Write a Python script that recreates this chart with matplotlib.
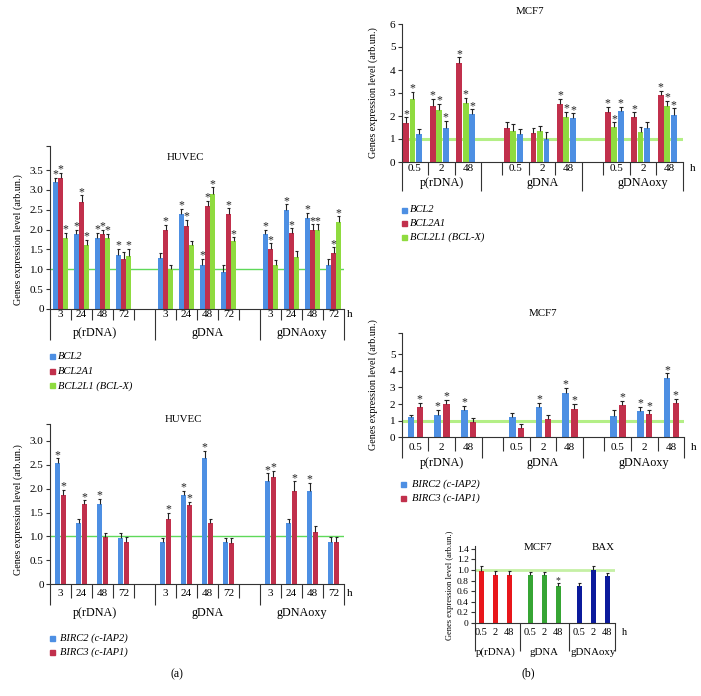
import matplotlib
matplotlib.use("Agg")
import matplotlib.pyplot as plt
from matplotlib.patches import Rectangle
import numpy as np

plt.rcParams['font.family'] = ['Liberation Serif', 'DejaVu Serif']

W, H = 701, 696

BLUE = '#4d8fe3'
RED = '#c1304c'
LGREEN = '#8fdb3f'

### DATA ###

groups = ['p(rDNA)', 'gDNA', 'gDNAoxy']
huvec_hours = ['3', '24', '48', '72']
mcf7_hours = ['0.5', '2', '48']

# HUVEC, BCL family (p(rDNA) 3/24/48/72, gDNA ..., gDNAoxy ...)
huvec_bcl2 = [3.19, 1.88, 1.78, 1.36, 1.29, 2.39, 1.10, 0.92, 1.89, 2.49, 2.30, 1.11]
huvec_bcl2_err = [0.12, 0.12, 0.14, 0.15, 0.11, 0.13, 0.16, 0.20, 0.11, 0.15, 0.13, 0.15]
huvec_bcl2_sig = [1, 1, 1, 1, 0, 1, 1, 0, 1, 1, 1, 0]
huvec_bcl2a1 = [3.30, 2.69, 1.88, 1.26, 1.99, 2.09, 2.59, 2.39, 1.50, 1.91, 1.99, 1.40]
huvec_bcl2a1_err = [0.13, 0.17, 0.12, 0.17, 0.13, 0.15, 0.14, 0.15, 0.15, 0.12, 0.14, 0.15]
huvec_bcl2a1_sig = [1, 1, 1, 0, 1, 1, 1, 1, 1, 1, 1, 1]
huvec_bcl2l1 = [1.80, 1.60, 1.78, 1.34, 1.00, 1.60, 2.89, 1.71, 1.11, 1.32, 2.00, 2.18]
huvec_bcl2l1_err = [0.12, 0.14, 0.12, 0.17, 0.12, 0.12, 0.17, 0.10, 0.12, 0.14, 0.13, 0.15]
huvec_bcl2l1_sig = [1, 1, 1, 1, 0, 0, 1, 1, 0, 0, 1, 1]

# HUVEC, BIRC
huvec_birc2 = [2.54, 1.28, 1.67, 0.97, 0.88, 1.86, 2.64, 0.88, 2.15, 1.28, 1.96, 0.88]
huvec_birc2_err = [0.09, 0.08, 0.12, 0.11, 0.08, 0.10, 0.15, 0.09, 0.17, 0.08, 0.16, 0.10]
huvec_birc2_sig = [1, 0, 1, 0, 0, 1, 1, 0, 1, 0, 1, 0]
huvec_birc3 = [1.87, 1.67, 0.98, 0.88, 1.36, 1.66, 1.28, 0.87, 2.25, 1.96, 1.09, 0.88]
huvec_birc3_err = [0.11, 0.09, 0.09, 0.10, 0.13, 0.07, 0.09, 0.10, 0.12, 0.19, 0.13, 0.10]
huvec_birc3_sig = [1, 1, 0, 0, 1, 1, 0, 0, 1, 1, 0, 0]

# MCF7, BCL family (p(rDNA) 0.5/2/48, gDNA ..., gDNAoxy ...)
mcf7_bcl2a1 = [1.71, 2.45, 4.29, 1.46, 1.25, 2.51, 2.19, 1.94, 2.91]
mcf7_bcl2a1_err = [0.23, 0.30, 0.26, 0.26, 0.24, 0.23, 0.22, 0.22, 0.19]
mcf7_bcl2a1_sig = [1, 1, 1, 0, 0, 1, 1, 1, 1]
mcf7_bcl2l1 = [2.75, 2.26, 2.55, 1.35, 1.35, 1.97, 1.54, 1.30, 2.43]
mcf7_bcl2l1_err = [0.31, 0.26, 0.25, 0.29, 0.22, 0.22, 0.18, 0.24, 0.22]
mcf7_bcl2l1_sig = [1, 1, 1, 0, 0, 1, 1, 0, 1]
mcf7_bcl2 = [1.20, 1.49, 2.07, 1.22, 0.99, 1.90, 2.22, 1.49, 2.04]
mcf7_bcl2_err = [0.22, 0.31, 0.22, 0.20, 0.30, 0.22, 0.19, 0.23, 0.29]
mcf7_bcl2_sig = [0, 1, 1, 0, 0, 1, 1, 0, 1]

# MCF7, BIRC
mcf7_birc2 = [1.20, 1.36, 1.62, 1.20, 1.83, 2.64, 1.30, 1.56, 3.55]
mcf7_birc2_err = [0.12, 0.30, 0.29, 0.26, 0.24, 0.34, 0.32, 0.27, 0.30]
mcf7_birc2_sig = [0, 1, 1, 0, 1, 1, 0, 1, 1]
mcf7_birc3 = [1.83, 2.01, 0.95, 0.59, 1.10, 1.70, 1.93, 1.42, 2.07]
mcf7_birc3_err = [0.24, 0.26, 0.21, 0.20, 0.26, 0.31, 0.28, 0.24, 0.26]
mcf7_birc3_sig = [1, 1, 0, 0, 0, 1, 1, 1, 1]

# MCF7, BAX
mcf7_bax = [0.98, 0.90, 0.90, 0.90, 0.90, 0.70, 0.70, 0.99, 0.89]
mcf7_bax_err = [0.10, 0.07, 0.07, 0.06, 0.06, 0.06, 0.05, 0.09, 0.05]
mcf7_bax_sig = [0, 0, 0, 0, 0, 1, 0, 0, 0]
bax_colors = ['#e8161b'] * 3 + ['#36a534'] * 3 + ['#0b1a9c'] * 3

### LAYOUT ###

huvec_pos = np.array([s + i + 0.5 for s in (0, 5, 10) for i in range(4)])
huvec_short = [1, 2, 3, 4, 6, 7, 8, 9, 11, 12, 13]
huvec_long = [0, 5, 10, 14]
huvec_group_x = [2.15, 7.5, 12.0]

mcf7_pos = np.array([s + i + 0.5 for s in (0, 3.8, 7.6) for i in range(3)])
mcf7_short = [1, 2, 3.8, 4.8, 5.8, 7.6, 8.6, 9.6]
mcf7_long = [0, 3, 6.8, 10.6]
mcf7_group_x = [1.5, 5.3, 9.1]

bax_pos = np.array([s + i + 0.45 for s in (0, 3.5, 7) for i in range(3)])
bax_long = [0, 3.2, 6.7, 10]
bax_group_x = [1.45, 4.95, 8.45]

fig = plt.figure(figsize=(W / 100, H / 100), dpi=100)


def add_ax(left, top, right, bottom):
    return fig.add_axes([left / W, 1 - bottom / H, (right - left) / W, (bottom - top) / H])


def draw_bars(ax, pos, series, width, fs_star=8.5):
    for vals, errs, sig, color, off in series:
        x = pos + off
        vals = np.asarray(vals)
        tops = vals + np.asarray(errs)
        ax.bar(x, vals, width, color=color, zorder=2)
        ax.vlines(x, vals, tops, color='#222222', lw=0.8, zorder=3)
        ax.hlines(tops, x - width * 0.32, x + width * 0.32, color='#222222', lw=0.8, zorder=3)
        for xi, t, s in zip(x, tops, sig):
            if s:
                ax.annotate('*', (xi, t), xytext=(0, -2.0), textcoords='offset points',
                            ha='center', va='bottom', fontsize=fs_star, color='#222222')


def style_axes(ax, xlim, ylim, yticks, ylabels, short, long, short_len, long_len,
               pos, hours, hour_off, group_x, group_off, h_off, fs=8, fs_group=8.7):
    ax.set_xlim(*xlim)
    ax.set_ylim(*ylim)
    for s in ('top', 'right'):
        ax.spines[s].set_visible(False)
    for s in ('left', 'bottom'):
        ax.spines[s].set_linewidth(0.8)
        ax.spines[s].set_color('#333333')
    ax.set_yticks(yticks, ylabels)
    ax.tick_params(axis='y', direction='out', length=3, width=0.8, labelsize=fs, pad=1.5,
                   color='#333333')
    ax.set_xticks(long, [''] * len(long))
    ax.set_xticks(short, [''] * len(short), minor=True)
    ax.tick_params(axis='x', which='major', direction='out', length=long_len, width=0.8,
                   color='#333333')
    ax.tick_params(axis='x', which='minor', direction='out', length=short_len, width=0.8,
                   color='#333333')
    labels = [hours[i % len(hours)] for i in range(len(pos))]
    for x, lab in zip(pos, labels):
        ax.annotate(lab, (x, 0), xycoords=('data', 'axes fraction'), xytext=(0, -hour_off),
                    textcoords='offset points', ha='center', va='center', fontsize=fs)
    ax.annotate('h', (xlim[1], 0), xycoords=('data', 'axes fraction'), xytext=(h_off, -hour_off),
                textcoords='offset points', ha='left', va='center', fontsize=fs)
    for x, g in zip(group_x, groups):
        ax.annotate(g, (x, 0), xycoords=('data', 'axes fraction'), xytext=(0, -group_off),
                    textcoords='offset points', ha='center', va='center', fontsize=fs_group)


def legend(x_sq, x_txt, ys, labels, colors):
    for y, lab, c in zip(ys, labels, colors):
        fig.add_artist(Rectangle(((x_sq - 2.5) / W, 1 - (y + 2.5) / H), 5 / W, 5 / H,
                                 color=c, transform=fig.transFigure))
        fig.text(x_txt / W, 1 - y / H, lab, ha='left', va='center', fontsize=7.6, style='italic')


def ftext(x, y, s, **kw):
    kw.setdefault('fontsize', 7.8)
    fig.text(x / W, 1 - y / H, s, ha='center', va='center', **kw)


YLAB = 'Genes expression level (arb.un.)'

### HUVEC, BCL ###
ax = add_ax(50, 146.2, 344, 309)
ax.axhline(1.0, color='#5fd95a', lw=1.0, zorder=1)
draw_bars(ax, huvec_pos, [
    (huvec_bcl2, huvec_bcl2_err, huvec_bcl2_sig, BLUE, -0.25),
    (huvec_bcl2a1, huvec_bcl2a1_err, huvec_bcl2a1_sig, RED, 0.0),
    (huvec_bcl2l1, huvec_bcl2l1_err, huvec_bcl2l1_sig, LGREEN, 0.25),
], 0.23)
yt = [0, 0.5, 1.0, 1.5, 2.0, 2.5, 3.0, 3.5, 4.1]
style_axes(ax, (0, 14), (0, 4.1), yt, ['0', '0.5', '1.0', '1.5', '2.0', '2.5', '3.0', '3.5', ''],
           huvec_short, huvec_long, 7.9, 22.3, huvec_pos, huvec_hours, 3.8, huvec_group_x, 17.3, 2)
ftext(185, 158, 'HUVEC')
ftext(18, 240, YLAB, rotation=90, fontsize=7.3)
legend(52, 58, [356.7, 371, 385.7], ['BCL2', 'BCL2A1', 'BCL2L1 (BCL-X)'], [BLUE, RED, LGREEN])

### HUVEC, BIRC ###
ax = add_ax(50, 424, 344, 584.3)
ax.axhline(1.0, color='#5fd95a', lw=1.0, zorder=1)
draw_bars(ax, huvec_pos, [
    (huvec_birc2, huvec_birc2_err, huvec_birc2_sig, BLUE, -0.13),
    (huvec_birc3, huvec_birc3_err, huvec_birc3_sig, RED, 0.14),
], 0.25)
yt = [0, 0.5, 1.0, 1.5, 2.0, 2.5, 3.0, 3.35]
style_axes(ax, (0, 14), (0, 3.35), yt, ['0', '0.5', '1.0', '1.5', '2.0', '2.5', '3.0', ''],
           huvec_short, huvec_long, 10, 15, huvec_pos, huvec_hours, 6.5, huvec_group_x, 20.4, 2)
ftext(183, 419, 'HUVEC')
ftext(18, 510, YLAB, rotation=90, fontsize=7.3)
legend(52.7, 60, [638, 652], ['BIRC2 (c-IAP2)', 'BIRC3 (c-IAP1)'], [BLUE, RED])
ftext(177, 674, '(a)', fontsize=8.5)

### MCF7, BCL ###
ax = add_ax(401.7, 24, 682.7, 162)
ax.axhline(1.0, color='#b4ef86', lw=2.2, zorder=1)
draw_bars(ax, mcf7_pos, [
    (mcf7_bcl2a1, mcf7_bcl2a1_err, mcf7_bcl2a1_sig, RED, -0.33),
    (mcf7_bcl2l1, mcf7_bcl2l1_err, mcf7_bcl2l1_sig, LGREEN, -0.09),
    (mcf7_bcl2, mcf7_bcl2_err, mcf7_bcl2_sig, BLUE, 0.16),
], 0.22)
style_axes(ax, (0, 10.6), (0, 6), range(7), [str(i) for i in range(7)],
           mcf7_short, mcf7_long, 9.4, 20.6, mcf7_pos, mcf7_hours, 4.5, mcf7_group_x, 15.3, 5)
ftext(530, 11.7, 'MCF7')
ftext(373, 93, YLAB, rotation=90, fontsize=7.3)
legend(404, 410, [210, 223.3, 237.3], ['BCL2', 'BCL2A1', 'BCL2L1 (BCL-X)'], [BLUE, RED, LGREEN])

### MCF7, BIRC ###
ax = add_ax(401.7, 332.7, 684.3, 437.3)
ax.axhline(1.0, color='#b4ef86', lw=2.2, zorder=1)
draw_bars(ax, mcf7_pos, [
    (mcf7_birc2, mcf7_birc2_err, mcf7_birc2_sig, BLUE, -0.15),
    (mcf7_birc3, mcf7_birc3_err, mcf7_birc3_sig, RED, 0.18),
], 0.24)
style_axes(ax, (0, 10.6), (0, 6.3), [0, 1, 2, 3, 4, 5, 6.3], ['0', '1', '2', '3', '4', '5', ''],
           mcf7_short, mcf7_long, 10.4, 14.9, mcf7_pos, mcf7_hours, 7.2, mcf7_group_x, 18.3, 5)
ftext(543, 313, 'MCF7')
ftext(373, 385, YLAB, rotation=90, fontsize=7.3)
legend(403, 411.7, [484, 498.3], ['BIRC2 (c-IAP2)', 'BIRC3 (c-IAP1)'], [BLUE, RED])

### MCF7, BAX ###
ax = add_ax(475, 546, 615, 623)
ax.axhline(1.0, color='#c5f0a5', lw=2.0, zorder=1)
for x, v, e, s, c in zip(bax_pos, mcf7_bax, mcf7_bax_err, mcf7_bax_sig, bax_colors):
    draw_bars(ax, np.array([x]), [([v], [e], [s], c, 0)], 0.32, fs_star=7)
yt = [0, 0.2, 0.4, 0.6, 0.8, 1.0, 1.2, 1.4]
style_axes(ax, (0, 10), (0, 1.45), yt, ['0', '0.2', '0.4', '0.6', '0.8', '1.0', '1.2', '1.4'],
           [], bax_long, 0, 20, bax_pos, mcf7_hours, 6.5, bax_group_x, 21, 5, fs=7.4, fs_group=7.8)
ax.tick_params(axis='y', labelsize=6.8)
ftext(538, 547, 'MCF7')
ftext(603, 547, 'BAX')
ftext(450, 585, YLAB, rotation=90, fontsize=6)
ftext(528, 673, '(b)', fontsize=8.5)

fig.savefig('out.png', dpi=100)
